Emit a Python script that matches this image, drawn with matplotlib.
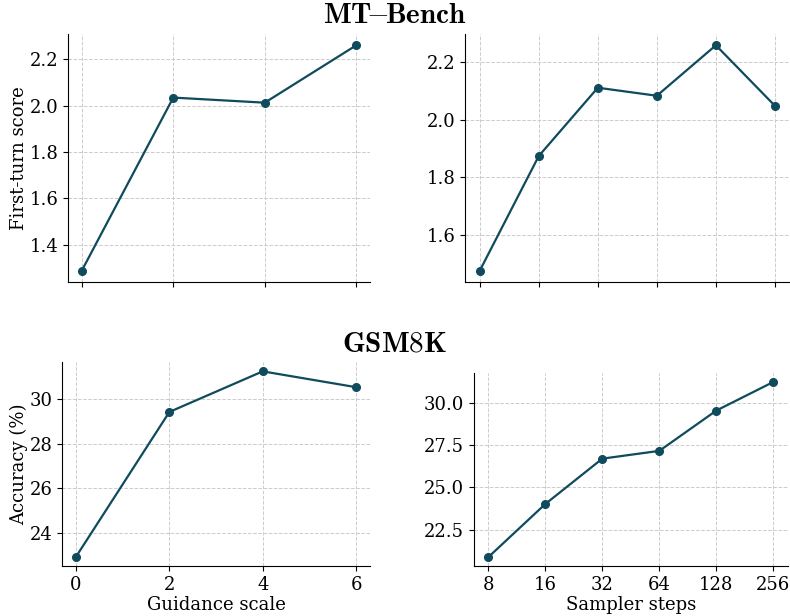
import matplotlib
matplotlib.use("Agg")
import matplotlib.pyplot as plt

guidance = [0, 2, 4, 6]
mt_guidance = [1.287, 2.035, 2.013, 2.261]
gsm_guidance = [22.93, 29.42, 31.24, 30.53]

steps = ["8", "16", "32", "64", "128", "256"]
mt_steps = [1.474, 1.874, 2.112, 2.084, 2.260, 2.049]
gsm_steps = [20.87, 24.01, 26.69, 27.15, 29.53, 31.22]

plt.rcParams['font.family'] = ['DejaVu Serif']
plt.rcParams['mathtext.fontset'] = 'cm'
color = '#0f4b5c'

fig = plt.figure(figsize=(7.9, 6.16), dpi=100)
ax_tl = fig.add_axes([0.0861, 0.5422, 0.3823, 0.4026])
ax_tr = fig.add_axes([0.5886, 0.5422, 0.411, 0.4026])
ax_bl = fig.add_axes([0.0785, 0.0812, 0.390, 0.331])
ax_br = fig.add_axes([0.600, 0.0812, 0.397, 0.313])

def style(ax):
    ax.spines['top'].set_visible(False)
    ax.spines['right'].set_visible(False)
    ax.grid(True, linestyle='--', color='#cccccc', linewidth=0.7)
    ax.set_axisbelow(True)
    ax.tick_params(labelsize=13)

ax_tl.plot(guidance, mt_guidance, marker='o', color=color, markersize=5.5, linewidth=1.6)
ax_tl.set_xticks(guidance)
ax_tl.set_xticklabels([])
ax_tl.set_ylabel('First-turn score', fontsize=13, labelpad=1)
style(ax_tl)

x = list(range(len(steps)))
ax_tr.plot(x, mt_steps, marker='o', color=color, markersize=5.5, linewidth=1.6)
ax_tr.set_xticks(x)
ax_tr.set_xticklabels([])
ax_tr.set_yticks([1.6, 1.8, 2.0, 2.2])
style(ax_tr)

ax_bl.plot(guidance, gsm_guidance, marker='o', color=color, markersize=5.5, linewidth=1.6)
ax_bl.set_xticks(guidance)
ax_bl.set_yticks([24, 26, 28, 30])
ax_bl.set_xlabel('Guidance scale', fontsize=13, labelpad=2)
ax_bl.set_ylabel('Accuracy (%)', fontsize=13, labelpad=1)
style(ax_bl)

ax_br.plot(x, gsm_steps, marker='o', color=color, markersize=5.5, linewidth=1.6)
ax_br.set_xticks(x)
ax_br.set_xticklabels(steps)
ax_br.set_yticks([22.5, 25.0, 27.5, 30.0])
ax_br.set_xlabel('Sampler steps', fontsize=13, labelpad=2)
style(ax_br)

fig.text(0.5, 0.975, r'$\mathbf{MT\!{-}\!Bench}$', ha='center', va='center', fontsize=21)
fig.text(0.5, 0.443, r'$\mathbf{GSM8K}$', ha='center', va='center', fontsize=21)

fig.savefig('out.png', dpi=100)
